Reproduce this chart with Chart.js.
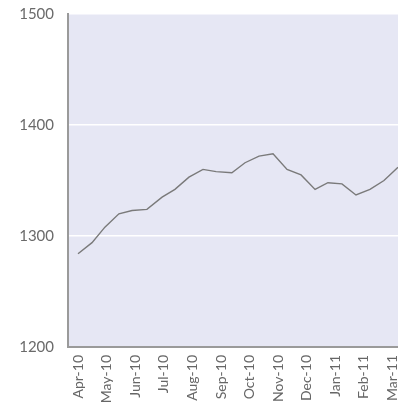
<!DOCTYPE html>
<html>
<head>
<meta charset="utf-8">
<script src="https://cdn.jsdelivr.net/npm/chart.js@4/dist/chart.umd.min.js"></script>
<style>
  html, body { margin: 0; padding: 0; background: #fff; }
  #wrap { width: 398px; height: 403px; }
</style>
</head>
<body>
<div id="wrap"><canvas id="chart"></canvas></div>
<script>
// month tick labels on the x axis
const monthLabels = ["Apr-10", "May-10", "Jun-10", "Jul-10", "Aug-10", "Sep-10",
  "Oct-10", "Nov-10", "Dec-10", "Jan-11", "Feb-11", "Mar-11"]

const obsMonth = [0, 0.49, 0.94, 1.43, 1.89, 2.41, 2.94, 3.39, 3.88, 4.37, 4.83, 5.38,
  5.84, 6.33, 6.82, 7.31, 7.80, 8.29, 8.74, 9.23, 9.72, 10.21, 10.70, 11.19]

// series values
const seriesValues = [1284, 1294, 1308, 1320, 1323, 1324, 1335, 1342, 1353, 1360, 1358, 1357,
  1366, 1372, 1374, 1360, 1355, 1342, 1348, 1347, 1337, 1342, 1350, 1362]

const yTicks = [1200, 1300, 1400, 1500]

const plotBg = {
  id: "plotBg",
  beforeDraw(chart) {
    const { ctx, chartArea: a } = chart
    ctx.save()
    ctx.fillStyle = "#e6e7f4"
    ctx.fillRect(a.left, a.top, a.right - a.left, a.bottom - a.top)
    ctx.restore()
  }
}

new Chart(document.getElementById("chart"), {
  type: "line",
  data: {
    datasets: [{
      data: obsMonth.map((m, i) => ({ x: m, y: seriesValues[i] })),
      borderColor: "#7a7a7a",
      borderWidth: 1.4,
      pointRadius: 0,
      tension: 0,
      fill: false
    }]
  },
  options: {
    responsive: true,
    maintainAspectRatio: false,
    animation: false,
    layout: { padding: { top: 14, right: 0, left: 0, bottom: 0 } },
    plugins: {
      legend: { display: false },
      tooltip: { enabled: false }
    },
    scales: {
      x: {
        type: "linear",
        min: -0.35,
        max: 11.19,
        afterBuildTicks: s => { s.ticks = monthLabels.map((_, i) => ({ value: i })) },
        afterFit: s => {
          s.height = 56
          s.paddingLeft = 0
          s.paddingRight = 0
        },
        grid: { display: false, drawTicks: false },
        border: { display: true, color: "#9a9a9a", width: 2 },
        ticks: {
          autoSkip: false,
          minRotation: 90,
          maxRotation: 90,
          padding: 8,
          color: "#666",
          font: { family: "Lato", size: 14 },
          callback: v => monthLabels[v] ?? ""
        }
      },
      y: {
        min: 1200,
        max: 1500,
        afterBuildTicks: s => { s.ticks = yTicks.map(v => ({ value: v })) },
        afterFit: s => {
          s.width = 68
          s.paddingTop = 0
          s.paddingBottom = 0
        },
        grid: { color: "#ffffff", lineWidth: 1.5, drawTicks: false },
        border: { display: true, color: "#9a9a9a", width: 2 },
        ticks: {
          padding: 14,
          color: "#6a6a6a",
          font: { family: "Lato", size: 15 },
          callback: v => String(v)
        }
      }
    }
  },
  plugins: [plotBg]
})
</script>
</body>
</html>
